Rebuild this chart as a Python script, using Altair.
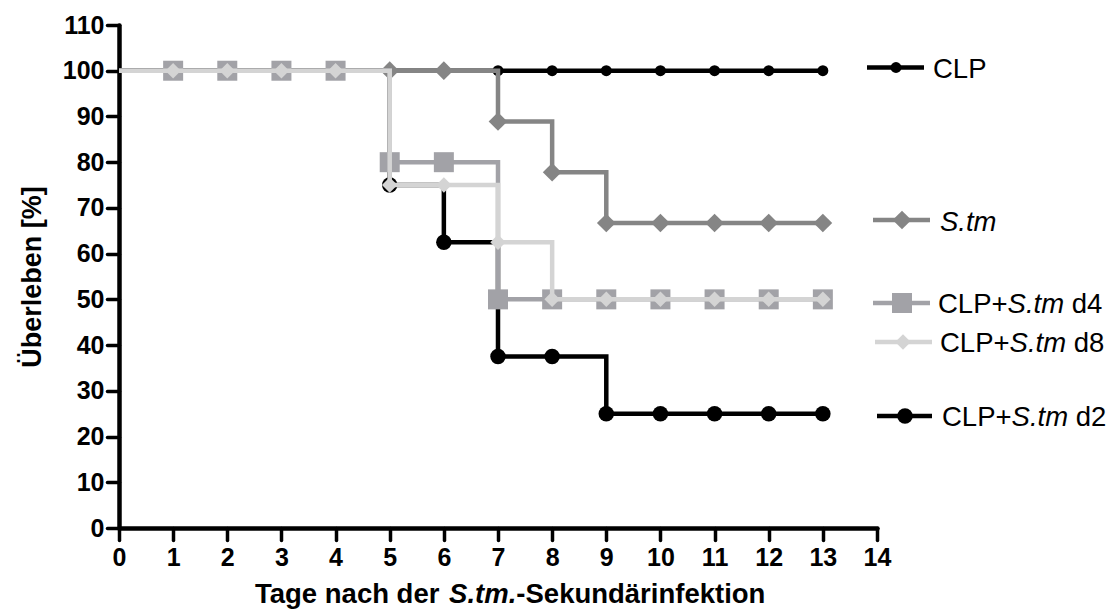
import altair as alt
import pandas as pd

# ---- survival data (percent alive per day) ----
days = [0, 1, 2, 3, 4, 5, 6, 7, 8, 9, 10, 11, 12, 13]
clp = [100, 100, 100, 100, 100, 100, 100, 100, 100, 100, 100, 100, 100, 100]
clp_stm_d2 = [100, 100, 100, 100, 100, 75, 62.5, 37.5, 37.5, 25, 25, 25, 25, 25]
stm = [100, 100, 100, 100, 100, 100, 100, 88.9, 77.8, 66.7, 66.7, 66.7, 66.7, 66.7]
clp_stm_d4 = [100, 100, 100, 100, 100, 80, 80, 50, 50, 50, 50, 50, 50, 50]
clp_stm_d8 = [100, 100, 100, 100, 100, 75, 75, 62.5, 50, 50, 50, 50, 50, 50]

x_ticks = [0, 1, 2, 3, 4, 5, 6, 7, 8, 9, 10, 11, 12, 13, 14]
y_ticks = [0, 10, 20, 30, 40, 50, 60, 70, 80, 90, 100, 110]

FONT = "Liberation Sans"
W, H = 758, 503
LEFT, TOP = 119, 25

# drawing order: bottom to top
series = [
    dict(key="CLP", values=clp, color="#000000", shape="circle", size=120),
    dict(key="d2", values=clp_stm_d2, color="#000000", shape="circle", size=240),
    dict(key="Stm", values=stm, color="#858585", shape="diamond", size=350),
    dict(key="d4", values=clp_stm_d4, color="#a2a2a7", shape="square", size=400),
    dict(key="d8", values=clp_stm_d8, color="#d4d4d4", shape="diamond", size=240),
]

axis_common = dict(
    title=None, grid=False, domainColor="black", domainWidth=4.5, domainCap="round",
    tickColor="black", tickWidth=3.5, tickSize=12, tickCap="round",
    labelFont=FONT, labelFontSize=25, labelFontWeight="bold", labelColor="black",
    labelFlush=False, labelOverlap=False,
)
X = alt.X("day:Q", scale=alt.Scale(domain=[0, 14], nice=False, zero=False),
          axis=alt.Axis(values=x_ticks, labelPadding=5, **axis_common))
Y = alt.Y("surv:Q", scale=alt.Scale(domain=[0, 110], nice=False),
          axis=alt.Axis(values=y_ticks, labelPadding=3, **axis_common))

layers = []
for s in series:
    df = pd.DataFrame({"day": days, "surv": s["values"]})
    layers.append(
        alt.Chart(df).mark_line(interpolate="step-after", color=s["color"], strokeWidth=4.5)
        .encode(x=X, y=Y)
    )
    layers.append(
        alt.Chart(df).transform_filter("datum.day >= 1")
        .mark_point(shape=s["shape"], size=s["size"], filled=True, color=s["color"], opacity=1)
        .encode(x=X, y=Y)
    )

# ---- legend at the right (pixel layout, absolute page coords) ----
legend_items = [
    dict(key="CLP", x1=867, x2=924, xm=896, y=67.5, tx=933, ty=78,
         parts=[("CLP", False)]),
    dict(key="Stm", x1=873, x2=930, xm=902, y=220, tx=940, ty=231,
         parts=[("S.tm", True)]),
    dict(key="d4", x1=873, x2=930, xm=902, y=303, tx=938, ty=313,
         parts=[("CLP+", False), ("S.tm", True), (" ", False), ("d4", False)]),
    dict(key="d8", x1=875, x2=932, xm=903, y=342, tx=940, ty=352,
         parts=[("CLP+", False), ("S.tm", True), (" ", False), ("d8", False)]),
    dict(key="d2", x1=877, x2=932, xm=905, y=416, tx=942, ty=426,
         parts=[("CLP+", False), ("S.tm", True), (" ", False), ("d2", False)]),
]

# Arial / Liberation Sans advance widths (per 1000 em)
REG = {" ": 278, "+": 584, ".": 278, "C": 722, "L": 556, "P": 667, "S": 667,
       "d": 556, "t": 278, "m": 833, "2": 556, "4": 556, "8": 556}
BOLD = {" ": 278, "T": 611, "a": 556, "g": 611, "e": 556, "n": 611, "c": 556,
        "h": 611, "d": 611, "r": 389, "S": 667, ".": 278, "t": 333, "m": 889,
        "-": 333, "k": 556, "u": 611, "ä": 556, "i": 278, "f": 333, "o": 611}


def text_width(txt, size, table):
    return sum(table[c] for c in txt) / 1000.0 * size


style = {s["key"]: s for s in series}
LEG_FS = 27.5
seg_rows = []
one = pd.DataFrame({"k": [0]})
for item in legend_items:
    s = style[item["key"]]
    layers.append(
        alt.Chart(one).mark_rule(color=s["color"], strokeWidth=4.5)
        .encode(x=alt.value(item["x1"] - LEFT), x2=alt.value(item["x2"] - LEFT),
                y=alt.value(item["y"] - TOP))
    )
    layers.append(
        alt.Chart(one).mark_point(shape=s["shape"], size=s["size"], filled=True,
                                  color=s["color"], opacity=1)
        .encode(x=alt.value(item["xm"] - LEFT), y=alt.value(item["y"] - TOP))
    )
    cx = item["tx"]
    for txt, ital in item["parts"]:
        if txt.strip():
            seg_rows.append(dict(px=cx - LEFT, py=item["ty"] - TOP, txt=txt,
                                 ital=ital, fs=LEG_FS, bold=False))
        cx += text_width(txt, LEG_FS, REG)

# ---- x-axis title with italic organism name ----
XT_FS = 27.5
cx = 255
for txt, ital in [("Tage nach der ", False), ("S.tm.", True), ("-Sekundärinfektion", False)]:
    seg_rows.append(dict(px=cx - LEFT, py=603 - TOP, txt=txt.strip(), ital=ital,
                         fs=XT_FS, bold=True))
    cx += text_width(txt, XT_FS, BOLD)

seg_df = pd.DataFrame(seg_rows)
for bold in (False, True):
    for ital in (False, True):
        sub = seg_df[(seg_df.bold == bold) & (seg_df.ital == ital)]
        if sub.empty:
            continue
        fs = float(sub.fs.iloc[0])
        layers.append(
            alt.Chart(sub).mark_text(
                font=FONT, fontSize=fs, fontWeight="bold" if bold else "normal",
                fontStyle="italic" if ital else "normal", align="left",
                baseline="alphabetic", color="black",
            ).encode(x=alt.X("px:Q", scale=None), y=alt.Y("py:Q", scale=None), text="txt:N")
        )

# ---- y-axis title ----
layers.append(
    alt.Chart(one).mark_text(
        text="Überleben [%]", font=FONT, fontSize=27, fontWeight="bold", angle=270,
        align="center", baseline="alphabetic", color="black",
    ).encode(x=alt.value(41 - LEFT), y=alt.value(277 - TOP))
)

chart = (
    alt.layer(*layers)
    .properties(
        width=W, height=H,
        padding={"left": LEFT, "top": TOP, "right": 1115 - LEFT - W, "bottom": 613 - TOP - H},
        autosize=alt.AutoSizeParams(type="none"),
        background="white",
    )
    .configure_view(stroke=None)
)

chart.save("out.html", embed_options={"renderer": "svg", "actions": False})
